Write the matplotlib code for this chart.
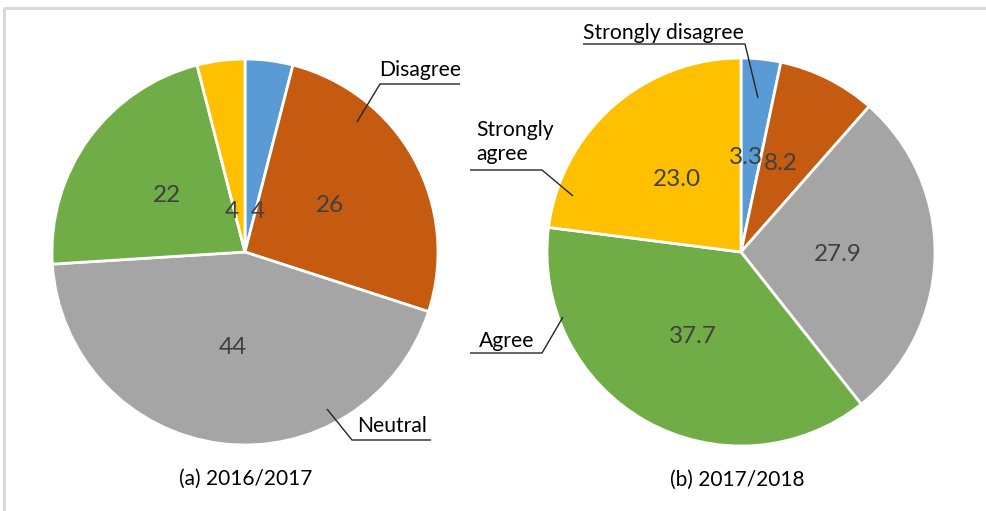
import matplotlib
matplotlib.use("Agg")
import matplotlib.pyplot as plt
import numpy as np

# ---- data ----
categories = ["Strongly disagree", "Disagree", "Neutral", "Agree", "Strongly agree"]
values_a = [4, 26, 44, 22, 4]
values_b = [3.3, 8.2, 27.9, 37.7, 23.0]
labels_a = ["4", "26", "44", "22", "4"]
labels_b = ["3.3", "8.2", "27.9", "37.7", "23.0"]
captions = ["(a) 2016/2017", "(b) 2017/2018"]
colors = ["#5B9BD5", "#C55A11", "#A5A5A5", "#70AD47", "#FFC000"]

W, H = 987, 511
FONT = "Lato"
CAT_FS = 15.2
VAL_FS = 17.5
CAP_FS = 15

fig = plt.figure(figsize=(W / 100, H / 100), dpi=100)
ax = fig.add_axes([0, 0, 1, 1])

def Y(y):
    return H - y

centers = [(245, 252), (741, 252)]
radii = [193, 194]
# manual label positions (pixel coords) for crowded small slices
manual = [{0: (258, 211), 4: (232, 211)}, {0: (746, 157), 1: (781, 163)}]

for k, (vals, labs) in enumerate([(values_a, labels_a), (values_b, labels_b)]):
    cx, cy = centers[k]
    r = radii[k]
    wedges, _ = ax.pie(vals, colors=colors, startangle=90, counterclock=False,
                       center=(cx, Y(cy)), radius=r, normalize=True,
                       wedgeprops=dict(edgecolor="white", linewidth=2))
    for i, w in enumerate(wedges):
        if i in manual[k]:
            px, py = manual[k][i]
            tx, ty = px, Y(py)
        else:
            mid = np.deg2rad((w.theta1 + w.theta2) / 2)
            tx = cx + 0.5 * r * np.cos(mid)
            ty = Y(cy) + 0.5 * r * np.sin(mid)
        ax.text(tx, ty, labs[i], ha="center", va="center", fontsize=VAL_FS,
                color="#404040", family=FONT)

# category labels with leader lines
lc = "#262626"
def leader(pts):
    xs = [p[0] for p in pts]
    ys = [Y(p[1]) for p in pts]
    ax.plot(xs, ys, color=lc, lw=1.0, solid_capstyle="butt")

def cat(x, y, s, ha="center", **kw):
    ax.text(x, Y(y), s, ha=ha, va="center", fontsize=CAT_FS, color="black", family=FONT, **kw)

# left pie
cat(420, 70, categories[1])
leader([(460, 84), (380, 84), (357, 122)])
cat(392, 426, categories[2])
leader([(431, 440), (352, 440), (327, 409)])
# right pie
cat(663, 33, categories[0])
leader([(583, 44), (745, 44), (758, 98)])
cat(476, 142, "Strongly\nagree", ha="left", linespacing=1.2)
leader([(470, 170), (542, 170), (573, 196)])
cat(507, 341, categories[3])
leader([(470, 353), (542, 353), (563, 317)])

# captions
ax.text(246, Y(479), captions[0], ha="center", va="center", fontsize=CAP_FS, color="black", family=FONT)
ax.text(737, Y(480), captions[1], ha="center", va="center", fontsize=CAP_FS, color="black", family=FONT)

# frame lines (top and left)
ax.plot([4, W], [Y(8), Y(8)], color="#D9D9D9", lw=2.2, solid_capstyle="butt")
ax.plot([4, 4], [Y(8), 0], color="#D9D9D9", lw=2.2, solid_capstyle="butt")

ax.set_xlim(0, W)
ax.set_ylim(0, H)
ax.set_aspect("equal")
ax.axis("off")

fig.savefig("out.png", dpi=100, facecolor="white")
